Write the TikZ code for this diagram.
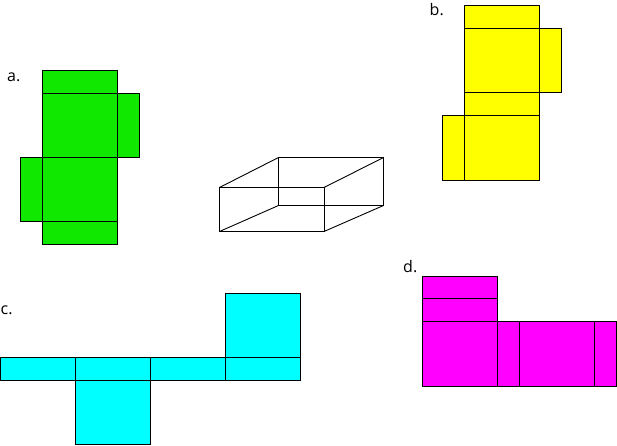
\documentclass[tikz,border=0pt]{standalone}
\usepackage{fontspec}
\setmainfont{Open Sans}
\usetikzlibrary{positioning}
\definecolor{netgreen}{HTML}{10E800}
\definecolor{netyellow}{HTML}{FFFF00}
\definecolor{netcyan}{HTML}{00FFFF}
\definecolor{netmagenta}{HTML}{FF00FF}

\begin{document}
\begin{tikzpicture}[x=1pt, y=-1pt,
                    edge_line/.style={draw=black, line width=0.9pt, line join=miter},
                    net_label/.style={inner sep=0pt, font=\fontsize{16pt}{19pt}\selectfont, anchor=base west},
                    ]
    \useasboundingbox (0,0) rectangle (617,446);

    % Net a
    \begin{scope}[every path/.style={edge_line, fill=netgreen}]
        \path (42.5,70) rectangle (117.5,93);
        \path (42.5,93) rectangle (117.5,157);
        \path (117.5,93) rectangle (139.5,157);
        \path (20.5,157) rectangle (42.5,221.5);
        \path (42.5,157) rectangle (117.5,221.5);
        \path (42.5,221.5) rectangle (117.5,244);
    \end{scope}
    \node[net_label] (label_a) at (7,82) {a.};

    % Net b
    \begin{scope}[every path/.style={edge_line, fill=netyellow}]
        \path (464.5,5.5) rectangle (539.5,28);
        \path (464.5,28) rectangle (539.5,92.5);
        \path (539.5,28) rectangle (561.5,92.5);
        \path (464.5,92.5) rectangle (539.5,115.5);
        \path (442.5,115.5) rectangle (464.5,180.5);
        \path (464.5,115.5) rectangle (539.5,180.5);
    \end{scope}
    \node[net_label] (label_b) at (429.5,16) {b.};

    % Net c
    \begin{scope}[every path/.style={edge_line, fill=netcyan}]
        \path (225.5,293) rectangle (300.5,357.5);
        \path (0.5,357.5) rectangle (75.5,380);
        \path (75.5,357.5) rectangle (150.5,380);
        \path (150.5,357.5) rectangle (225.5,380);
        \path (225.5,357.5) rectangle (300.5,380);
        \path (75.5,380) rectangle (150.5,444.5);
    \end{scope}
    \node[net_label] (label_c) at (0.5,314) {c.};

    % Net d
    \begin{scope}[every path/.style={edge_line, fill=netmagenta}]
        \path (422,276) rectangle (497.5,298.5);
        \path (422,298.5) rectangle (497.5,321.5);
        \path (422,321.5) rectangle (497.5,386);
        \path (497.5,321.5) rectangle (519,386);
        \path (519,321.5) rectangle (594.5,386);
        \path (594.5,321.5) rectangle (616.5,386);
    \end{scope}
    \node[net_label] (label_d) at (403,272) {d.};

    % Box in the middle
    \draw[edge_line] (219.5,187.5) rectangle (324,231.5);
    \draw[edge_line] (278.5,157.5) rectangle (383.5,205.5);
    \draw[edge_line] (219.5,187.5) -- (278.5,157.5);
    \draw[edge_line] (324,187.5) -- (383.5,157.5);
    \draw[edge_line] (219.5,231.5) -- (278.5,205.5);
    \draw[edge_line] (324,231.5) -- (383.5,205.5);
\end{tikzpicture}
\end{document}
